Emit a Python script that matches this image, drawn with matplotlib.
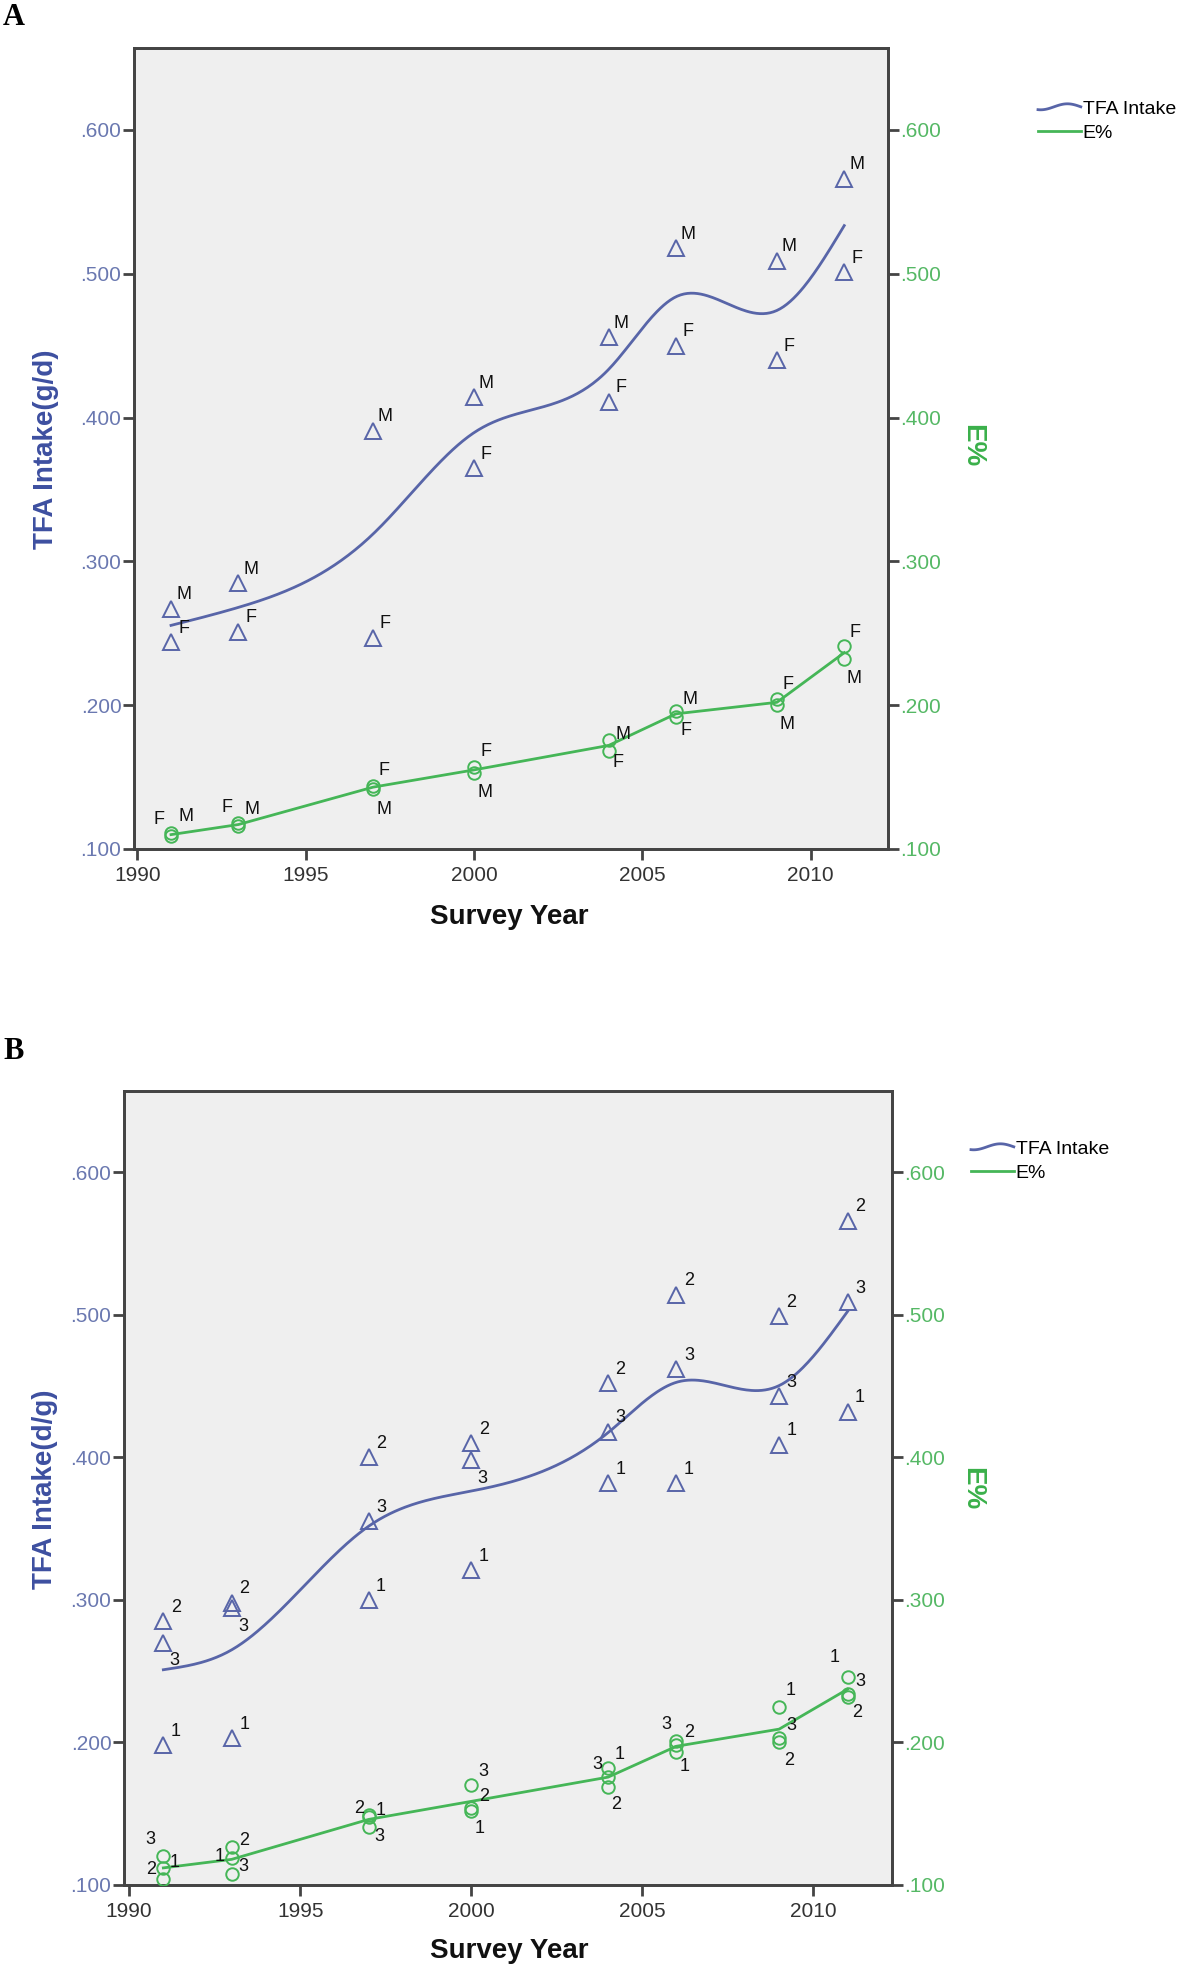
import numpy as np
import matplotlib
matplotlib.use("Agg")
import matplotlib.pyplot as plt
from matplotlib.lines import Line2D
from matplotlib.legend_handler import HandlerBase
from matplotlib.ticker import FuncFormatter, FixedLocator

plt.rcParams['font.family'] = ['Liberation Sans', 'DejaVu Sans']

# ---------------- data ----------------
years = [1991, 1993, 1997, 2000, 2004, 2006, 2009, 2011]

# Panel A (sex)
tfa_A_M = [0.267, 0.285, 0.391, 0.414, 0.456, 0.518, 0.509, 0.566]
tfa_A_F = [0.244, 0.251, 0.247, 0.365, 0.411, 0.450, 0.440, 0.501]
e_A_M = [0.111, 0.116, 0.142, 0.153, 0.176, 0.196, 0.200, 0.232]
e_A_F = [0.109, 0.118, 0.144, 0.157, 0.168, 0.192, 0.204, 0.241]

# Panel B (groups 1, 2, 3)
tfa_B_1 = [0.198, 0.203, 0.300, 0.321, 0.382, 0.382, 0.409, 0.432]
tfa_B_2 = [0.285, 0.298, 0.400, 0.410, 0.452, 0.514, 0.499, 0.566]
tfa_B_3 = [0.270, 0.294, 0.355, 0.398, 0.418, 0.462, 0.443, 0.509]
e_B_1 = [0.112, 0.119, 0.149, 0.152, 0.182, 0.193, 0.225, 0.246]
e_B_2 = [0.104, 0.127, 0.148, 0.154, 0.169, 0.198, 0.200, 0.232]
e_B_3 = [0.120, 0.108, 0.141, 0.170, 0.176, 0.201, 0.203, 0.234]

x_ticks = [1990, 1995, 2000, 2005, 2010]
y_ticks = [0.1, 0.2, 0.3, 0.4, 0.5, 0.6]

# ---------------- styles ----------------
BLUE = '#5865a8'
BLUE_LBL = '#3d4fa0'
BLUE_TICK = '#6a78b0'
GREEN = '#45b657'
GREEN_LBL = '#3ab04a'
GREEN_TICK = '#55b865'
FRAME = '#444444'
BG = '#efefef'

UR = (9, 10)
DR = (8, -13)

# label offsets (points) for each data label
off_A_tfa_M = [UR] * 8
off_A_tfa_F = [UR] * 8
off_A_e_M = [(11, 12), (10, 12), (8, -15), (8, -14), (10, 4), (10, 8), (7, -14), (7, -14)]
off_A_e_F = [(-9, 12), (-8, 11), (8, 11), (9, 11), (7, -8), (7, -10), (8, 11), (8, 10)]

off_B_tfa_1 = [UR] * 8
off_B_tfa_2 = [UR] * 8
off_B_tfa_3 = [DR, DR, UR, DR, UR, UR, UR, UR]
off_B_e_1 = [(8, 4), (-9, 1), (9, 3), (6, -13), (8, 10), (6, -10), (8, 12), (-9, 14)]
off_B_e_2 = [(-9, 7), (9, 4), (-7, 6), (9, 8), (6, -13), (9, 9), (7, -13), (7, -11)]
off_B_e_3 = [(-9, 12), (8, 5), (8, -7), (9, 10), (-8, 9), (-7, 12), (9, 9), (9, 9)]


def natural_spline(x, y, xs):
    x = np.asarray(x, float)
    y = np.asarray(y, float)
    n = len(x)
    h = np.diff(x)
    A = np.zeros((n, n))
    r = np.zeros(n)
    A[0, 0] = A[-1, -1] = 1.0
    for i in range(1, n - 1):
        A[i, i - 1] = h[i - 1]
        A[i, i] = 2 * (h[i - 1] + h[i])
        A[i, i + 1] = h[i]
        r[i] = 3 * ((y[i + 1] - y[i]) / h[i] - (y[i] - y[i - 1]) / h[i - 1])
    c = np.linalg.solve(A, r)
    b = (y[1:] - y[:-1]) / h - h * (2 * c[:-1] + c[1:]) / 3
    d = (c[1:] - c[:-1]) / (3 * h)
    idx = np.clip(np.searchsorted(x, xs) - 1, 0, n - 2)
    dx = xs - x[idx]
    return y[idx] + b[idx] * dx + c[idx] * dx ** 2 + d[idx] * dx ** 3


class WavyHandler(HandlerBase):
    def create_artists(self, legend, orig_handle, xdescent, ydescent,
                       width, height, fontsize, trans):
        xs = np.linspace(0, width, 40)
        ys = height / 2 + height * 0.22 * np.sin(np.linspace(-0.6 * np.pi, 1.0 * np.pi, 40))
        ln = Line2D(xs - xdescent, ys - ydescent, color=orig_handle.get_color(),
                    lw=orig_handle.get_linewidth())
        ln.set_transform(trans)
        return [ln]


fmt = FuncFormatter(lambda v, p: f"{v:.3f}"[1:] if v < 1 else f"{v:.3f}")

W, H = 1181, 1970
fig = plt.figure(figsize=(W / 100, H / 100), dpi=100)


def make_panel(rect, tfa_groups, e_groups, labels, tfa_offs, e_offs,
               ylabel, ylab_pos, elab_pos, xlab_pos, leg_pos, xlim):
    l, t, r, b = rect
    ax = fig.add_axes([l / W, 1 - b / H, (r - l) / W, (b - t) / H])
    ax.set_facecolor(BG)
    ax.set_xlim(*xlim)
    ax.set_ylim(0.1, 0.657)
    ax2 = ax.twinx()
    ax2.set_ylim(0.1, 0.657)
    for a in (ax, ax2):
        for s in a.spines.values():
            s.set_color(FRAME)
            s.set_linewidth(2.0)
    ax.xaxis.set_major_locator(FixedLocator(x_ticks))
    ax.yaxis.set_major_locator(FixedLocator(y_ticks))
    ax2.yaxis.set_major_locator(FixedLocator(y_ticks))
    ax.yaxis.set_major_formatter(fmt)
    ax2.yaxis.set_major_formatter(fmt)
    ax.tick_params(axis='x', length=8, width=2, color=FRAME, labelsize=15,
                   labelcolor='#333333', pad=4)
    ax.tick_params(axis='y', length=8, width=2, color=FRAME, labelsize=15,
                   labelcolor=BLUE_TICK, pad=1)
    ax2.tick_params(axis='y', length=8, width=2, color=FRAME, labelsize=15,
                    labelcolor=GREEN_TICK, pad=1)

    # means & lines
    tfa_mean = np.mean(np.array(tfa_groups), axis=0)
    e_mean = np.mean(np.array(e_groups), axis=0)
    xs = np.linspace(years[0], years[-1], 400)
    ax.plot(xs, natural_spline(years, tfa_mean, xs), color=BLUE, lw=2.0, zorder=3)
    ax2.plot(years, e_mean, color=GREEN, lw=2.0, zorder=3)

    for vals, lab, offs in zip(tfa_groups, labels, tfa_offs):
        ax.plot(years, vals, linestyle='none', marker='^', markersize=12,
                markerfacecolor='none', markeredgecolor=BLUE, markeredgewidth=1.4, zorder=4)
        for xv, yv, o in zip(years, vals, offs):
            ax.annotate(lab, (xv, yv), xytext=o, textcoords='offset points',
                        ha='center', va='center', fontsize=13, color='#111111', zorder=5)
    for vals, lab, offs in zip(e_groups, labels, e_offs):
        ax2.plot(years, vals, linestyle='none', marker='o', markersize=9,
                 markerfacecolor='none', markeredgecolor=GREEN, markeredgewidth=1.4, zorder=4)
        for xv, yv, o in zip(years, vals, offs):
            ax2.annotate(lab, (xv, yv), xytext=o, textcoords='offset points',
                         ha='center', va='center', fontsize=13, color='#111111', zorder=5)

    fig.text(ylab_pos[0] / W, 1 - ylab_pos[1] / H, ylabel, rotation=90, ha='center', va='center',
             fontsize=20, fontweight='bold', color=BLUE_LBL)
    fig.text(elab_pos[0] / W, 1 - elab_pos[1] / H, 'E%', rotation=270, ha='center', va='center',
             fontsize=20, fontweight='bold', color=GREEN_LBL)
    fig.text(xlab_pos[0] / W, 1 - xlab_pos[1] / H, 'Survey Year', ha='center', va='center',
             fontsize=20, fontweight='bold', color='#111111')

    h1 = Line2D([], [], color=BLUE, lw=2.0)
    h2 = Line2D([], [], color=GREEN, lw=2.0)
    fig.legend([h1, h2], ['TFA Intake', 'E%'], loc='upper left',
               bbox_to_anchor=(leg_pos[0] / W, 1 - leg_pos[1] / H),
               frameon=False, fontsize=14, handlelength=2.2, handletextpad=0.1,
               labelspacing=0.35, borderpad=0, borderaxespad=0,
               handler_map={h1: WavyHandler()})
    return ax


make_panel((134, 48, 888, 849), [tfa_A_M, tfa_A_F], [e_A_M, e_A_F], ['M', 'F'],
           [off_A_tfa_M, off_A_tfa_F], [off_A_e_M, off_A_e_F],
           'TFA Intake(g/d)', (46, 449), (972, 446), (509, 917), (1038, 100),
           (1989.9, 2012.3))

make_panel((124, 1091, 892, 1885), [tfa_B_1, tfa_B_2, tfa_B_3], [e_B_1, e_B_2, e_B_3],
           ['1', '2', '3'],
           [off_B_tfa_1, off_B_tfa_2, off_B_tfa_3], [off_B_e_1, off_B_e_2, off_B_e_3],
           'TFA Intake(d/g)', (45, 1489), (972, 1489), (509, 1951), (971, 1140),
           (1989.85, 2012.3))

fig.text(3 / W, 1 - 3 / H, 'A', ha='left', va='top', fontsize=22, fontweight='bold',
         family='Liberation Serif')
fig.text(3 / W, 1 - 1037 / H, 'B', ha='left', va='top', fontsize=22, fontweight='bold',
         family='Liberation Serif')

fig.savefig('out.png', dpi=100, facecolor='white')
